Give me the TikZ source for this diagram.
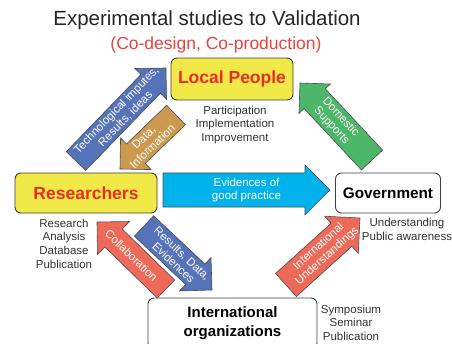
\documentclass[tikz,border=0pt]{standalone}
\usepackage{fontspec}
\setmainfont{Liberation Sans}
\usetikzlibrary{calc}
\definecolor{lpyellow}{RGB}{240,233,72}
\definecolor{lpred}{RGB}{233,45,40}
\definecolor{arblue}{RGB}{86,115,186}
\definecolor{arbrown}{RGB}{203,153,80}
\definecolor{argreen}{RGB}{76,183,104}
\definecolor{arcyan}{RGB}{0,178,236}
\definecolor{arsalmon}{RGB}{238,106,88}
\tikzset{
  actor/.style={draw=black!75,line width=0.9pt,rounded corners=6pt,
    align=center,inner sep=2pt},
  actorlbl/.style={font=\fontsize{17.5}{20}\selectfont\bfseries,text=lpred},
  roletxt/.style={font=\fontsize{11.5}{13.8}\selectfont,text=black!80,align=center},
  bigarr/.style={draw=black!70,line width=0.6pt,line join=miter},
  arrtxt/.style={text=white,font=\fontsize{11.5}{12.5}\selectfont,align=center,
    inner sep=0pt},
}
% wide arrow: tail, tip, colour, half body width, half head width, text
\newcommand{\bigarrow}[6]{%
  \coordinate (hb) at ($(#2)!#5!(#1)$);
  \path[bigarr,fill=#3] ($(#1)!#4!90:(#2)$) -- ($(hb)!#4!90:(#2)$)
    -- ($(hb)!#5!90:(#2)$) -- (#2) -- ($(hb)!#5!-90:(#2)$)
    -- ($(hb)!#4!-90:(#2)$) -- ($(#1)!#4!-90:(#2)$) -- cycle;
  \path (#1) -- (#2) node[midway,sloped,arrtxt] {#6};
}
\begin{document}
\begin{tikzpicture}[x=1pt,y=1pt]
  \useasboundingbox (0,0) rectangle (452,343);
  \clip (0,0) rectangle (452,343);
  \fill[white] (0,0) rectangle (452,343);

  % titles
  \node[font=\fontsize{20.5}{24}\selectfont,text=black!85] (title) at (207,323)
    {Experimental studies to Validation};
  \node[font=\fontsize{17.5}{20}\selectfont,text=lpred!90] (subtitle) at (216,298)
    {(Co-design, Co-production)};

  % actors
  \node[actor,actorlbl,fill=lpyellow,minimum width=122pt,minimum height=42pt]
    (local) at (232,264) {Local People};
  \node[actor,actorlbl,fill=lpyellow,minimum width=142pt,minimum height=40pt]
    (res) at (86,150) {Researchers};
  \node[actor,fill=white,font=\fontsize{15.3}{18}\selectfont\bfseries,
    minimum width=105pt,minimum height=40pt] (gov) at (388,150) {Government};
  \node[actor,fill=white,font=\fontsize{15}{19}\selectfont\bfseries,
    minimum width=169pt,minimum height=51pt] (intl) at (232.5,19.5)
    {International\\organizations};

  % roles
  \node[roletxt] (localrole) at (235,218) {Participation\\Implementation\\Improvement};
  \node[roletxt,font=\fontsize{11.5}{13.7}\selectfont] (resrole) at (64,99.5)
    {Research\\Analysis\\Database\\Publication};
  \node[roletxt] (govrole) at (407,114) {Understanding\\Public awareness};
  \node[roletxt,font=\fontsize{11.5}{13.5}\selectfont] (intlrole) at (351,20.5)
    {Symposium\\Seminar\\Publication};

  % arrow ends
  \coordinate (techT) at (76,182);   \coordinate (techH) at (166,275);
  \coordinate (dataT) at (176,228);  \coordinate (dataH) at (120,174);
  \coordinate (domT) at (372,183);   \coordinate (domH) at (300,260);
  \coordinate (evidT) at (163,153);  \coordinate (evidH) at (330,153);
  \coordinate (collT) at (166,54);   \coordinate (collH) at (97,121);
  \coordinate (rsltT) at (144,117);  \coordinate (rsltH) at (212,53);
  \coordinate (iuT) at (286,58);     \coordinate (iuH) at (360,125);

  % flows
  \bigarrow{techT}{techH}{arblue}{13.5pt}{22pt}{Technological imputes,\\Results, ideas}
  \bigarrow{dataT}{dataH}{arbrown}{13.5pt}{22pt}{Data,\\Information}
  \bigarrow{domT}{domH}{argreen}{14.5pt}{21.5pt}{Domestic\\Supports}
  \bigarrow{evidT}{evidH}{arcyan}{17pt}{25pt}{Evidences of\\good practice}
  \bigarrow{collT}{collH}{arsalmon}{12.5pt}{23pt}{Collaboration}
  \bigarrow{rsltT}{rsltH}{arblue}{14pt}{23pt}{Results, Data,\\Evidences}
  \bigarrow{iuT}{iuH}{arsalmon}{15.5pt}{25pt}{International\\Understandings}
\end{tikzpicture}
\end{document}
